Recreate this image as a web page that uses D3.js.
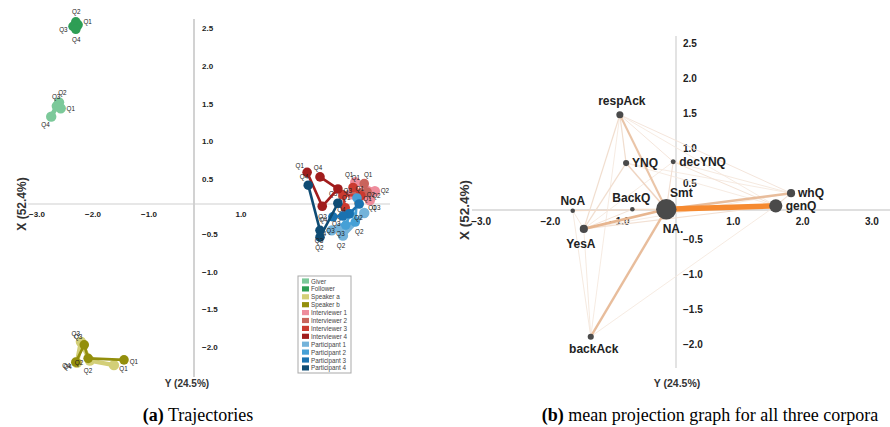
<!DOCTYPE html>
<html>
<head>
<meta charset="utf-8">
<script src="https://cdn.jsdelivr.net/npm/d3@7"></script>
<style>
body { margin: 0; background: #fff; }
svg { display: block; font-family: "Liberation Sans", Arial, sans-serif; }
</style>
</head>
<body>
<svg width="890" height="427"></svg>
<script>
// ---- panel (a) data: trajectories per role over quarters
const quarters = ["Q1", "Q2", "Q3", "Q4"];
const roles = ["Giver", "Follower", "Speaker a", "Speaker b",
    "Interviewer 1", "Interviewer 2", "Interviewer 3", "Interviewer 4",
    "Participant 1", "Participant 2", "Participant 3", "Participant 4"];
const roleColors = ["#7cc99a", "#2e9e55", "#d3cf78", "#938f0c",
    "#ee8c9c", "#c9645c", "#cb3a30", "#a11d1d",
    "#74b3da", "#46a0d6", "#1a72b0", "#0f4c74"];
const trajX = [
    [-2.38, -2.41, -2.45, -2.55],
    [-2.07, -2.11, -2.16, -2.11],
    [-1.43, -1.86, -2.02, -2.09],
    [-1.25, -1.89, -1.96, -2.11],
    [2.88, 3.23, 3.14, 2.82],
    [3.04, 3.09, 2.98, 2.86],
    [2.84, 2.98, 2.66, 2.70],
    [2.02, 2.29, 2.57, 2.25],
    [3.04, 2.66, 2.61, 2.46],
    [2.91, 2.88, 2.71, 2.79],
    [2.95, 2.77, 2.66, 2.48],
    [2.57, 2.25, 2.25, 2.04]
];
const trajY = [
    [1.27, 1.35, 1.30, 1.16],
    [2.38, 2.42, 2.36, 2.32],
    [-2.14, -2.08, -1.83, -2.11],
    [-2.07, -2.05, -1.87, -2.10],
    [0.29, 0.17, 0.05, 0.13],
    [0.27, 0.16, 0.15, 0.17],
    [0.22, 0.11, 0.12, -0.05],
    [0.42, -0.03, 0.20, 0.36],
    [-0.12, -0.42, -0.32, -0.35],
    [0.08, -0.24, -0.28, -0.13],
    [0.00, -0.13, -0.16, -0.17],
    [0.01, -0.44, -0.35, 0.25]
];
const ticksAX = [-3, -2, -1, 1];
const ticksAY = [2.5, 2, 1.5, 1, 0.5, -0.5, -1, -1.5, -2];

// ---- panel (b) data: mean projection graph
const nodeNames = ["respAck", "YNQ", "decYNQ", "NoA", "BackQ", "NA.", "Smt", "YesA", "backAck", "whQ", "genQ"];
const nodeX = [-0.81, -0.72, -0.04, -1.49, -0.63, -0.13, -0.14, -1.33, -1.23, 1.66, 1.44];
const nodeY = [1.36, 0.67, 0.69, -0.01, 0.01, 0.0, 0.01, -0.27, -1.81, 0.24, 0.06];
const nodeFreq = [12, 9, 6, 5, 5, 30, 100, 16, 9, 16, 42];
const edgeList = [
    ["Smt", "genQ", 1.0], ["Smt", "whQ", 0.36], ["Smt", "YesA", 0.42],
    ["Smt", "backAck", 0.36], ["Smt", "respAck", 0.3], ["Smt", "NoA", 0.14],
    ["Smt", "BackQ", 0.14], ["Smt", "YNQ", 0.18], ["Smt", "decYNQ", 0.1],
    ["respAck", "YesA", 0.12], ["respAck", "YNQ", 0.12], ["respAck", "decYNQ", 0.07],
    ["respAck", "whQ", 0.07], ["respAck", "genQ", 0.05], ["YNQ", "YesA", 0.12],
    ["YNQ", "whQ", 0.05], ["YNQ", "genQ", 0.05], ["decYNQ", "whQ", 0.06],
    ["decYNQ", "genQ", 0.08], ["decYNQ", "YesA", 0.05], ["BackQ", "YesA", 0.08],
    ["YesA", "genQ", 0.1], ["YesA", "whQ", 0.05], ["NoA", "backAck", 0.06],
    ["YesA", "backAck", 0.06], ["backAck", "genQ", 0.05], ["NoA", "YesA", 0.06],
    ["whQ", "genQ", 0.1], ["backAck", "respAck", 0.05]
];
const ticksBX = [-3, -2, -1, 1, 2, 3];
const ticksBY = [2.5, 2, 1.5, 1, 0.5, -0.5, -1, -1.5, -2];

const svg = d3.select("svg");
const fmt = d3.format(".1f");

// ================= panel (a)
const xA = d3.scaleLinear().domain([-3, 3]).range([26, 362]);
const yA = d3.scaleLinear().domain([-2, 2.5]).range([354.6, 15.75]);
const gA = svg.append("g");

gA.append("line").attr("x1", xA(0)).attr("x2", xA(0))
    .attr("y1", 19).attr("y2", 377).attr("stroke", "#d2d2d2").attr("stroke-width", 2);
gA.append("line").attr("x1", 28).attr("x2", 390)
    .attr("y1", yA(0)).attr("y2", yA(0)).attr("stroke", "#cfcfcf").attr("stroke-width", 1.2);

gA.selectAll(".tx").data(ticksAX).join("text")
    .attr("x", d => xA(d) + (d < 0 ? 11 : -9))
    .attr("y", yA(0) + 10)
    .attr("text-anchor", "middle").attr("dominant-baseline", "central")
    .attr("font-size", 8).attr("font-weight", "bold").attr("fill", "#222")
    .text(fmt);
gA.selectAll(".ty").data(ticksAY).join("text")
    .attr("x", xA(0) + 8)
    .attr("y", d => yA(d) + (d > 0 ? 13 : -7))
    .attr("dominant-baseline", "central")
    .attr("font-size", 8).attr("font-weight", "bold").attr("fill", "#222")
    .text(fmt);

const lineA = d3.line().x(d => xA(d.x)).y(d => yA(d.y));
roles.forEach((role, i) => {
    const pts = quarters.map((q, j) => ({ q, x: trajX[i][j], y: trajY[i][j] }));
    const light = i === 0 || i === 2 || i === 4 || i === 8;
    const g = gA.append("g");
    g.append("path").datum(pts).attr("d", lineA)
        .attr("fill", "none").attr("stroke", roleColors[i])
        .attr("stroke-width", light ? 4.5 : 2.6).attr("stroke-linejoin", "round");
    g.selectAll("circle").data(pts).join("circle")
        .attr("cx", d => xA(d.x)).attr("cy", d => yA(d.y))
        .attr("r", light ? 5.2 : 4.8).attr("fill", roleColors[i]);
    const cx = d3.mean(pts, d => xA(d.x)), cy = d3.mean(pts, d => yA(d.y));
    g.selectAll("text").data(pts).join("text")
        .each(function (d) {
            let dx = xA(d.x) - cx, dy = yA(d.y) - cy;
            const len = Math.hypot(dx, dy);
            if (len < 0.5) { dx = 1; dy = 0; } else { dx /= len; dy /= len; }
            d3.select(this)
                .attr("x", xA(d.x) + dx * 10)
                .attr("y", yA(d.y) + dy * 10);
        })
        .attr("text-anchor", "middle").attr("dominant-baseline", "central")
        .attr("font-size", 6.3).attr("fill", "#222")
        .text(d => d.q);
});

// legend
const leg = gA.append("g").attr("transform", "translate(298,276)");
leg.append("rect").attr("width", 53).attr("height", 97)
    .attr("fill", "#fff").attr("stroke", "#a9a9a9");
const li = leg.selectAll("g").data(roles).join("g")
    .attr("transform", (d, i) => `translate(4,${5 + i * 7.9})`);
li.append("rect").attr("y", -2.6).attr("width", 7).attr("height", 5.2)
    .attr("fill", (d, i) => roleColors[i]);
li.append("text").attr("x", 9).attr("dominant-baseline", "central")
    .attr("font-size", 6.3).attr("fill", "#444").text(d => d);

gA.append("text").attr("transform", "translate(22,204) rotate(-90)")
    .attr("text-anchor", "middle").attr("dominant-baseline", "central")
    .attr("font-size", 12).attr("font-weight", "bold").attr("fill", "#333")
    .text("X (52.4%)");
gA.append("text").attr("x", 187).attr("y", 387).attr("text-anchor", "middle")
    .attr("font-size", 10).attr("font-weight", "bold").attr("fill", "#333")
    .text("Y (24.5%)");

// ================= panel (b)
const xB = d3.scaleLinear().domain([-3, 3]).range([468.1, 883.9]);
const yB = d3.scaleLinear().domain([-2, 2.5]).range([350, 35]);
const rB = d3.scaleSqrt().domain([0, 100]).range([0, 10.2]);
const gB = svg.append("g");

gB.append("line").attr("x1", xB(0)).attr("x2", xB(0))
    .attr("y1", 36).attr("y2", 368).attr("stroke", "#d4d4d4").attr("stroke-width", 1.3);
gB.append("line").attr("x1", 472).attr("x2", 890)
    .attr("y1", yB(0)).attr("y2", yB(0)).attr("stroke", "#d4d4d4").attr("stroke-width", 1.3);

gB.selectAll(".tx").data(ticksBX).join("text")
    .attr("x", d => xB(d) + (d < 0 ? 13 : -12))
    .attr("y", yB(0) + 11)
    .attr("text-anchor", "middle").attr("dominant-baseline", "central")
    .attr("font-size", 10).attr("font-weight", "bold").attr("fill", "#222")
    .text(fmt);
gB.selectAll(".ty").data(ticksBY).join("text")
    .attr("x", xB(0) + 7)
    .attr("y", d => yB(d) + (d > 0 ? 8.5 : -5.5))
    .attr("dominant-baseline", "central")
    .attr("font-size", 10).attr("font-weight", "bold").attr("fill", "#222")
    .text(fmt);

const nodes = nodeNames.map((n, i) => ({ n, x: nodeX[i], y: nodeY[i], f: nodeFreq[i] }));
const byName = new Map(nodes.map(d => [d.n, d]));
const edgeColor = d3.scaleLinear().domain([0, 0.4, 1]).range(["#f6eee8", "#e6b793", "#f68a30"]);
const edgeWidth = d3.scaleLinear().domain([0, 1]).range([0.6, 5.6]);
const edges = edgeList.map(([s, t, w]) => ({ s: byName.get(s), t: byName.get(t), w }))
    .sort((a, b) => a.w - b.w);

gB.selectAll(".edge").data(edges).join("line")
    .attr("x1", d => xB(d.s.x)).attr("y1", d => yB(d.s.y))
    .attr("x2", d => xB(d.t.x)).attr("y2", d => yB(d.t.y))
    .attr("stroke", d => edgeColor(d.w)).attr("stroke-width", d => edgeWidth(d.w));

gB.selectAll(".node").data(nodes).join("circle")
    .attr("cx", d => xB(d.x)).attr("cy", d => yB(d.y))
    .attr("r", d => rB(d.f)).attr("fill", "#4a4a4a");

const labelPlace = {
    respAck: [2, -14, "middle"], YNQ: [6, 0, "start"], decYNQ: [6, 0, "start"],
    NoA: [0, -10, "middle"], BackQ: [-1, -11, "middle"], Smt: [15, -16, "middle"],
    "NA.": [6, 19, "middle"], YesA: [-3, 15, "middle"], backAck: [3, 12, "middle"],
    whQ: [7, 0, "start"], genQ: [10, 0, "start"]
};
gB.selectAll(".nlab").data(nodes).join("text")
    .attr("x", d => xB(d.x) + labelPlace[d.n][0])
    .attr("y", d => yB(d.y) + labelPlace[d.n][1])
    .attr("text-anchor", d => labelPlace[d.n][2])
    .attr("dominant-baseline", "central")
    .attr("font-size", 12).attr("font-weight", "bold").attr("fill", "#222")
    .text(d => d.n);

gB.append("text").attr("transform", "translate(464,210) rotate(-90)")
    .attr("text-anchor", "middle").attr("dominant-baseline", "central")
    .attr("font-size", 13.5).attr("font-weight", "bold").attr("fill", "#333")
    .text("X (52.4%)");
gB.append("text").attr("x", 677).attr("y", 387).attr("text-anchor", "middle")
    .attr("font-size", 10.5).attr("font-weight", "bold").attr("fill", "#333")
    .text("Y (24.5%)");

// ================= captions
const cap = svg.append("g").attr("font-family", "'Liberation Serif', 'Times New Roman', serif")
    .attr("font-size", 18).attr("fill", "#000");
const ca = cap.append("text").attr("x", 198).attr("y", 421).attr("text-anchor", "middle");
ca.append("tspan").attr("font-weight", "bold").text("(a)");
ca.append("tspan").text(" Trajectories");
const cb = cap.append("text").attr("x", 710).attr("y", 421).attr("text-anchor", "middle");
cb.append("tspan").attr("font-weight", "bold").text("(b)");
cb.append("tspan").text(" mean projection graph for all three corpora");
</script>
</body>
</html>
